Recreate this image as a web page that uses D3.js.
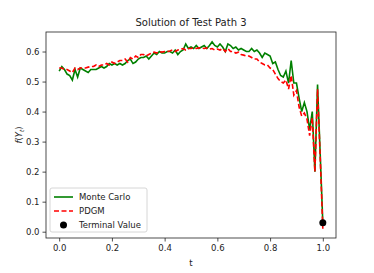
<!DOCTYPE html>
<html>
<head>
<meta charset="utf-8">
<script src="https://cdn.jsdelivr.net/npm/d3@7"></script>
<style>
  body { margin: 0; background: #fff; }
  text { font-family: "DejaVu Sans", sans-serif; fill: #222; }
</style>
</head>
<body>
<svg class="viz" width="374" height="273"></svg>
<script>
// time grid and the two solution series
var tValues = d3.range(0, 101).map(function (i) { return i / 100; });

var monteCarlo = [
  0.535, 0.55, 0.54, 0.525, 0.52, 0.505, 0.54, 0.515, 0.545, 0.54,
  0.535, 0.53, 0.54, 0.54, 0.54, 0.545, 0.55, 0.545, 0.55, 0.56,
  0.555, 0.56, 0.555, 0.56, 0.555, 0.56, 0.57, 0.575, 0.56, 0.565,
  0.575, 0.58, 0.58, 0.585, 0.575, 0.585, 0.595, 0.59, 0.6, 0.595,
  0.595, 0.6, 0.6, 0.595, 0.605, 0.59, 0.6, 0.605, 0.625, 0.61,
  0.615, 0.61, 0.62, 0.61, 0.615, 0.62, 0.61, 0.62, 0.632, 0.62,
  0.615, 0.625, 0.615, 0.6, 0.625, 0.62, 0.61, 0.615, 0.605, 0.61,
  0.605, 0.6, 0.6, 0.61, 0.6, 0.605, 0.595, 0.58, 0.595, 0.59,
  0.585, 0.56, 0.565, 0.54, 0.52, 0.515, 0.535, 0.495, 0.57, 0.495,
  0.495, 0.445, 0.4, 0.43, 0.4, 0.34, 0.4, 0.2, 0.49, 0.26,
  0.03
];

var pdgm = [
  0.545, 0.545, 0.54, 0.54, 0.535, 0.53, 0.545, 0.54, 0.545, 0.545,
  0.545, 0.548, 0.55, 0.55, 0.555, 0.55, 0.555, 0.555, 0.56, 0.555,
  0.565, 0.56, 0.565, 0.57, 0.57, 0.575, 0.565, 0.58, 0.575, 0.585,
  0.58, 0.59, 0.59, 0.585, 0.59, 0.595, 0.598, 0.595, 0.6, 0.598,
  0.6, 0.6, 0.602, 0.605, 0.6, 0.605, 0.608, 0.61, 0.605, 0.61,
  0.61, 0.612, 0.61, 0.612, 0.612, 0.61, 0.612, 0.608, 0.61, 0.605,
  0.608, 0.605, 0.61, 0.6, 0.61, 0.6, 0.6, 0.595, 0.598, 0.59,
  0.588, 0.585, 0.585, 0.58, 0.575, 0.575, 0.565, 0.56, 0.555, 0.555,
  0.545, 0.54, 0.525, 0.51, 0.5, 0.495, 0.505, 0.475, 0.52, 0.455,
  0.47, 0.415, 0.385, 0.395, 0.375, 0.32, 0.38, 0.2, 0.475, 0.25,
  0.01
];

var terminal = { t: 1.0, value: 0.03 };

var xTicks = [0.0, 0.2, 0.4, 0.6, 0.8, 1.0];
var yTicks = [0.0, 0.1, 0.2, 0.3, 0.4, 0.5, 0.6];

var svg = d3.select(".viz"),
    margin = {top: 32, right: 38, bottom: 35, left: 46},
    width = +svg.attr("width") - margin.left - margin.right,
    height = +svg.attr("height") - margin.top - margin.bottom;

var scaleX = d3.scaleLinear()
  .domain([-0.05, 1.05])
  .range([margin.left, margin.left + width]);

var scaleY = d3.scaleLinear()
  .domain([-0.021, 0.665])
  .range([margin.top + height, margin.top]);

// lines
var line = function (series) {
  return d3.line()
    .x(function (d, i) { return scaleX(tValues[i]); })
    .y(function (d) { return scaleY(d); })(series);
};

svg.append("path")
  .attr("d", line(monteCarlo))
  .attr("fill", "none")
  .attr("stroke", "#008000")
  .attr("stroke-width", 1.6);

svg.append("path")
  .attr("d", line(pdgm))
  .attr("fill", "none")
  .attr("stroke", "#ff0000")
  .attr("stroke-width", 1.6)
  .attr("stroke-dasharray", "5,2.5");

svg.append("circle")
  .attr("cx", scaleX(terminal.t))
  .attr("cy", scaleY(terminal.value))
  .attr("r", 3.5)
  .attr("fill", "#000");

// axes
var xAxis = d3.axisBottom(scaleX).tickValues(xTicks).tickSize(3.5).tickPadding(3)
  .tickFormat(d3.format(".1f"));
var yAxis = d3.axisLeft(scaleY).tickValues(yTicks).tickSize(3.5).tickPadding(3)
  .tickFormat(d3.format(".1f"));

var gx = svg.append("g")
  .attr("transform", "translate(0," + (margin.top + height) + ")")
  .call(xAxis);
var gy = svg.append("g")
  .attr("transform", "translate(" + margin.left + ",0)")
  .call(yAxis);

[gx, gy].forEach(function (g) {
  g.select(".domain").remove();
  g.selectAll("line").attr("stroke", "#222").attr("stroke-width", 0.8);
  g.selectAll("text").attr("font-size", "8.5px").attr("fill", "#222")
    .style("font-family", "DejaVu Sans, sans-serif");
});

// frame
svg.append("rect")
  .attr("x", margin.left)
  .attr("y", margin.top)
  .attr("width", width)
  .attr("height", height)
  .attr("fill", "none")
  .attr("stroke", "#222")
  .attr("stroke-width", 0.8);

// title and labels
svg.append("text")
  .attr("x", margin.left + width / 2)
  .attr("y", 26)
  .attr("text-anchor", "middle")
  .attr("font-size", "10px")
  .text("Solution of Test Path 3");

svg.append("text")
  .attr("x", margin.left + width / 2)
  .attr("y", 266)
  .attr("text-anchor", "middle")
  .attr("font-size", "8.5px")
  .text("t");

var ylab = svg.append("text")
  .attr("transform", "translate(22," + (margin.top + height / 2) + ") rotate(-90)")
  .attr("text-anchor", "middle")
  .attr("font-size", "8.5px");
ylab.append("tspan").attr("font-style", "italic").text("f");
ylab.append("tspan").text("(");
ylab.append("tspan").attr("font-style", "italic").text("Y");
ylab.append("tspan").attr("font-style", "italic").attr("font-size", "6px").attr("dy", 2).text("t");
ylab.append("tspan").attr("dy", -2).text(")");

// legend
var legend = svg.append("g").attr("transform", "translate(50,188)");
legend.append("rect")
  .attr("width", 97).attr("height", 44).attr("rx", 2)
  .attr("fill", "#fff").attr("fill-opacity", 0.8)
  .attr("stroke", "#ccc").attr("stroke-width", 0.8);

var entries = ["Monte Carlo", "PDGM", "Terminal Value"];
entries.forEach(function (name, i) {
  var y = 9 + i * 14;
  if (i === 0) {
    legend.append("line").attr("x1", 4).attr("x2", 23).attr("y1", y).attr("y2", y)
      .attr("stroke", "#008000").attr("stroke-width", 1.6);
  } else if (i === 1) {
    legend.append("line").attr("x1", 4).attr("x2", 23).attr("y1", y).attr("y2", y)
      .attr("stroke", "#ff0000").attr("stroke-width", 1.6).attr("stroke-dasharray", "5,2.5");
  } else {
    legend.append("circle").attr("cx", 13.5).attr("cy", y).attr("r", 3.5).attr("fill", "#000");
  }
  legend.append("text")
    .attr("x", 29).attr("y", y + 3)
    .attr("font-size", "8.5px")
    .text(name);
});
</script>
</body>
</html>
